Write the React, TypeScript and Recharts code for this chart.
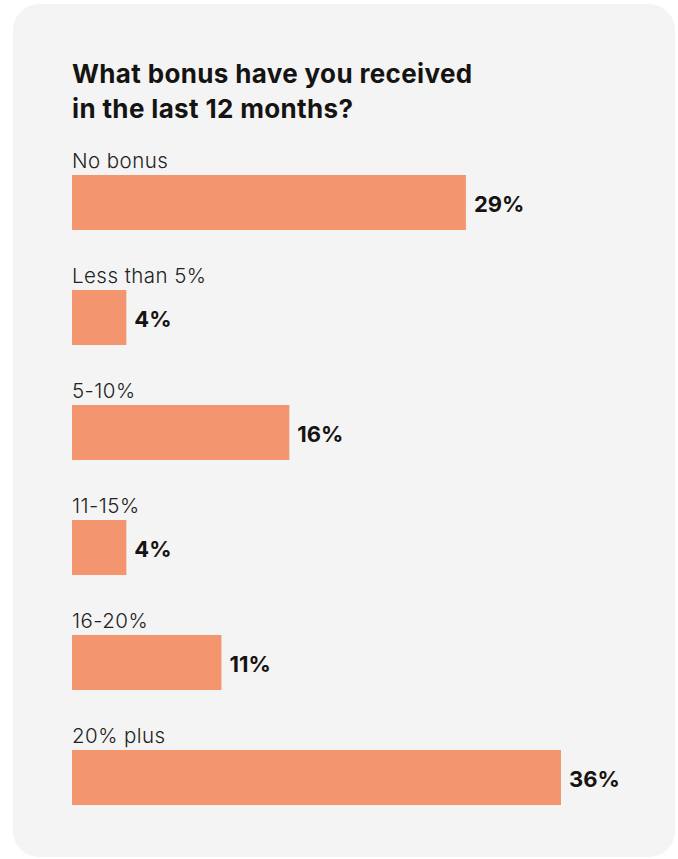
import React from "react";
import { BarChart, Bar, XAxis, YAxis, LabelList } from "recharts";

const categories = ["No bonus", "Less than 5%", "5-10%", "11-15%", "16-20%", "20% plus"];
const shares = [29, 4, 16, 4, 11, 36];

const data = categories.map((name, i) => ({ name, value: shares[i] }));

const BAR_COLOR = "#F3956F";
const FONT = "Inter, 'Noto Sans', sans-serif";

const renderName = (props: any) => {
    const { x, y, value } = props;
    return (
        <text
            x={x}
            y={y - 7.5}
            fill="#222"
            fontFamily={FONT}
            fontWeight={300}
            fontSize={20.5}
            letterSpacing={0.45}
        >
            {value}
        </text>
    );
};

const renderValue = (props: any) => {
    const { x, y, width, height, value } = props;
    return (
        <text
            x={x + width + 8}
            y={y + height / 2 + 1}
            fill="#161412"
            fontFamily={FONT}
            fontWeight={700}
            fontSize={22}
            dominantBaseline="central"
        >
            {`${value}%`}
        </text>
    );
};

const App: React.FC = () => {
    return (
        <div
            style={{
                position: "absolute",
                left: 13,
                top: 4,
                width: 662,
                height: 853,
                background: "#f4f4f4",
                borderRadius: 26,
            }}
        >
            <div
                style={{
                    position: "absolute",
                    left: 59,
                    top: 52.3,
                    fontFamily: FONT,
                    fontWeight: 700,
                    fontSize: 26,
                    letterSpacing: 0.35,
                    lineHeight: "35px",
                    color: "#161412",
                    whiteSpace: "nowrap",
                }}
            >
                What bonus have you received
                <br />
                in the last 12 months?
            </div>
            <div style={{ position: "absolute", left: 0, top: 0 }}>
                <BarChart
                    width={662}
                    height={853}
                    data={data}
                    layout="vertical"
                    margin={{ top: 141, right: 114, bottom: 22, left: 59 }}
                    style={{ overflow: "visible" }}
                >
                    <XAxis type="number" domain={[0, 36]} hide />
                    <YAxis type="category" dataKey="name" hide />
                    <Bar dataKey="value" fill={BAR_COLOR} barSize={55} isAnimationActive={false}>
                        <LabelList dataKey="name" content={renderName} />
                        <LabelList dataKey="value" content={renderValue} />
                    </Bar>
                </BarChart>
            </div>
        </div>
    );
};

export default App;
